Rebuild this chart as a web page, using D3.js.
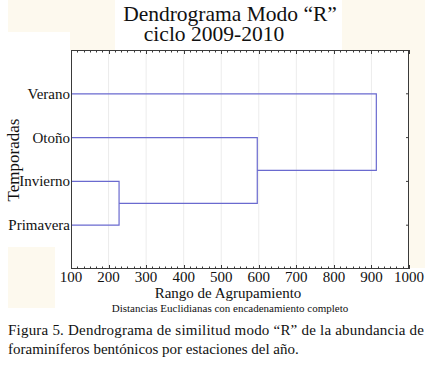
<!DOCTYPE html>
<html>
<head>
<meta charset="utf-8">
<script src="https://cdn.jsdelivr.net/npm/d3@7"></script>
<style>
  html, body { margin: 0; padding: 0; background: #fff; }
</style>
</head>
<body>
<svg id="chart" width="431" height="365"></svg>
<script>
/* Dendrograma modo "R" — foraminíferos por estación, ciclo 2009-2010 */
(function () {
  'use strict';

  // leaves, top to bottom
  var leaves = ['Verano', 'Otoño', 'Invierno', 'Primavera'];
  // agglomeration steps: [left member, right member, linkage distance]
  var merges = [
    ['Invierno', 'Primavera', 228],
    ['Otoño', 'C1', 596],
    ['Verano', 'C2', 913]
  ];
  var xTicks = [100, 200, 300, 400, 500, 600, 700, 800, 900, 1000];

  var M = { left: 71, right: 409, top: 50, bottom: 269 };
  var lineColor = '#6a6acf', cream = '#fdf9ee', frameColor = '#3a3a3a';
  var FONT = '"Times New Roman", Times, serif';

  var svg = d3.select('#chart');

  /* background patches of the scanned figure */
  [[8, 0, 107, 32], [70, 32, 45, 18], [342, 0, 83, 268], [8, 247, 47, 61]].forEach(function (r) {
    svg.append('rect').attr('x', r[0]).attr('y', r[1]).attr('width', r[2]).attr('height', r[3]).attr('fill', cream);
  });
  svg.append('rect').attr('x', M.left).attr('y', M.top)
    .attr('width', M.right - M.left).attr('height', M.bottom - M.top).attr('fill', '#fff');

  var x = d3.scaleLinear().domain([100, 1000]).range([M.left, M.right]);
  var y = d3.scaleLinear().domain([-1, leaves.length]).range([M.top, M.bottom]);

  /* faint vertical grid */
  svg.append('g').selectAll('line').data(xTicks.slice(1, -1)).join('line')
    .attr('x1', function (d) { return x(d); }).attr('x2', function (d) { return x(d); })
    .attr('y1', M.top).attr('y2', M.bottom)
    .attr('stroke', '#ececec').attr('stroke-width', 1);

  /* dendrogram: node positions */
  var nodes = {};
  leaves.forEach(function (name, i) { nodes[name] = { x: x(100), y: y(i) }; });
  var g = svg.append('g').attr('fill', 'none').attr('stroke', lineColor).attr('stroke-width', 1.2);
  merges.forEach(function (m, i) {
    var a = nodes[m[0]], b = nodes[m[1]], xm = x(m[2]);
    g.append('path').attr('d',
      'M' + a.x + ',' + a.y + 'H' + xm + 'V' + b.y + 'H' + b.x);
    nodes['C' + (i + 1)] = { x: xm, y: (a.y + b.y) / 2 };
  });

  /* frame */
  svg.append('rect').attr('x', M.left + 0.5).attr('y', M.top + 0.5)
    .attr('width', M.right - M.left - 1).attr('height', M.bottom - M.top - 1)
    .attr('fill', 'none').attr('stroke', frameColor).attr('stroke-width', 1);

  /* minor / major ticks on top and bottom, inward */
  var minor = d3.range(100, 1000.01, 100 / 6);
  [M.top, M.bottom].forEach(function (yy, k) {
    var dir = k === 0 ? 1 : -1;
    svg.append('g').selectAll('line').data(minor).join('line')
      .attr('x1', function (d) { return Math.round(x(d)) + 0.5; })
      .attr('x2', function (d) { return Math.round(x(d)) + 0.5; })
      .attr('y1', yy).attr('y2', function (d, i) { return yy + dir * (i % 6 === 0 ? 4 : 2.5); })
      .attr('stroke', frameColor).attr('stroke-width', 1);
  });
  /* right-side ticks at leaves */
  svg.append('g').selectAll('line').data(leaves).join('line')
    .attr('x1', M.right - 3).attr('x2', M.right)
    .attr('y1', function (d, i) { return y(i); }).attr('y2', function (d, i) { return y(i); })
    .attr('stroke', frameColor).attr('stroke-width', 1);

  /* leaf labels */
  svg.append('g').selectAll('text').data(leaves).join('text')
    .attr('x', M.left - 1).attr('y', function (d, i) { return y(i) + 5; })
    .attr('text-anchor', 'end').style('font-family', FONT).style('font-size', '15px').attr('fill', '#111')
    .text(function (d) { return d; });

  /* x tick labels */
  svg.append('g').selectAll('text').data(xTicks).join('text')
    .attr('x', function (d) { return x(d); }).attr('y', 282)
    .attr('text-anchor', 'middle').style('font-family', FONT).style('font-size', '15px').attr('fill', '#111')
    .text(function (d) { return d; });

  function txt(xx, yy, s, size, anchor) {
    return svg.append('text').attr('x', xx).attr('y', yy).attr('text-anchor', anchor || 'middle')
      .style('font-family', FONT).style('font-size', size + 'px').attr('fill', '#111').text(s);
  }

  txt(230, 21, 'Dendrograma Modo \u201CR\u201D', 21.5);
  txt(214, 41, 'ciclo 2009-2010', 21.5);
  txt(228, 298, 'Rango de Agrupamiento', 15);
  txt(230, 312, 'Distancias Euclidianas con encadenamiento completo', 11);
  txt(0, 0, 'Temporadas', 17).attr('transform', 'translate(19,160) rotate(-90)');

  /* caption */
  txt(8, 335, 'Figura 5. Dendrograma de similitud modo \u201CR\u201D de la abundancia de', 15, 'start')
    .attr('textLength', 416).attr('lengthAdjust', 'spacing');
  txt(8, 354, 'foraminíferos bentónicos por estaciones del año.', 15, 'start');
})();
</script>
</body>
</html>
